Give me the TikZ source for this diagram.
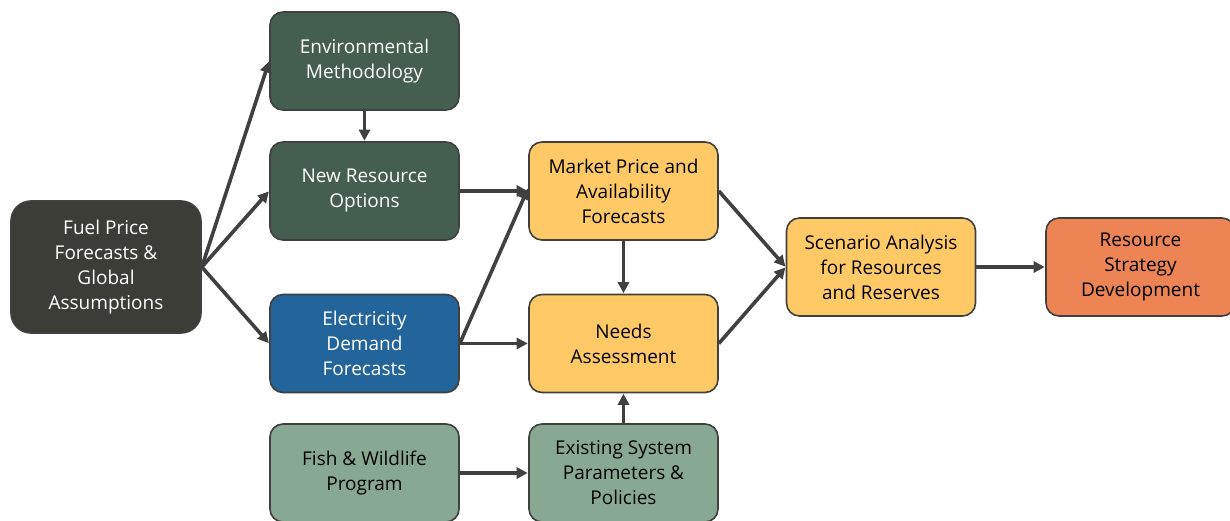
\documentclass[tikz,border=0pt]{standalone}
\usepackage{fontspec}
\setmainfont{Open Sans}
\usetikzlibrary{arrows.meta}
\definecolor{fueldark}{HTML}{3D3D38}
\definecolor{darkgreen}{HTML}{445F4F}
\definecolor{elecblue}{HTML}{23649A}
\definecolor{sage}{HTML}{87A994}
\definecolor{amber}{HTML}{FFC966}
\definecolor{orangebox}{HTML}{EC8453}
\definecolor{edgegrey}{HTML}{404040}
\tikzset{
  box/.style={draw=edgegrey, line width=1.6pt, rounded corners=13pt, minimum width=189pt, minimum height=98pt, align=center, font=\fontsize{19}{25}\selectfont, inner sep=2pt},
  darkbox/.style={box, fill=darkgreen, text=white},
  bluebox/.style={box, fill=elecblue, text=white},
  sagebox/.style={box, fill=sage, text=black},
  amberbox/.style={box, fill=amber, text=black},
  orangebox/.style={box, fill=orangebox, text=black},
  arr/.style={draw=edgegrey, line width=3.6pt, -{Triangle[length=11pt,width=11pt]}, shorten >=0.5pt}
}
\begin{document}
\begin{tikzpicture}[x=1pt,y=-1pt]
\useasboundingbox (0,0) rectangle (1230,521);
\node[box, fill=fueldark, text=white, minimum width=190pt, minimum height=132pt, rounded corners=20pt] (fuel) at (106,267) {Fuel Price\\Forecasts \&\\Global\\Assumptions};
\node[darkbox] (env) at (364.5,61) {Environmental\\Methodology};
\node[darkbox] (newres) at (364.5,191) {New Resource\\Options};
\node[bluebox] (elec) at (364.5,343.5) {Electricity\\Demand\\Forecasts};
\node[sagebox] (fish) at (364.5,473) {Fish \& Wildlife\\Program};
\node[amberbox] (market) at (623.5,191) {Market Price and\\Availability\\Forecasts};
\node[amberbox] (needs) at (623.5,343.5) {Needs\\Assessment};
\node[sagebox] (exist) at (623.5,473) {Existing System\\Parameters \&\\Policies};
\node[amberbox] (scen) at (881,267) {Scenario Analysis\\for Resources\\and Reserves};
\node[orangebox] (strat) at (1140.5,267) {Resource\\Strategy\\Development};
\draw[arr] (fuel.east) -- (env.west);
\draw[arr] (fuel.east) -- (newres.west);
\draw[arr] (fuel.east) -- (elec.west);
\draw[arr] (env.south) -- (newres.north);
\draw[arr] (newres.east) -- (market.west);
\draw[arr] (elec.east) -- ([yshift=3pt]market.west);
\draw[arr] (elec.east) -- (needs.west);
\draw[arr] (market.south) -- (needs.north);
\draw[arr] (exist.north) -- (needs.south);
\draw[arr] (fish.east) -- (exist.west);
\draw[arr] (market.east) -- (scen.west);
\draw[arr] (needs.east) -- (scen.west);
\draw[arr] (scen.east) -- (strat.west);
\end{tikzpicture}
\end{document}
